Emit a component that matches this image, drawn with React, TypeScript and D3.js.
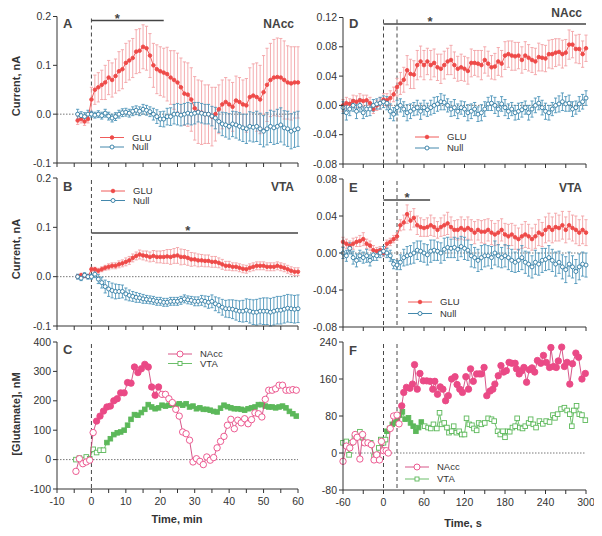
import React from 'react';
import * as d3 from 'd3';

// ---------- DATA ----------
const minT = d3.range(-4, 61); // minutes, panels A & B
const secT = d3.range(-60, 301, 5); // seconds, panels D & E

const aGlu = [-0.013, -0.01, -0.015, -0.01,
  0.03, 0.05, 0.055, 0.06, 0.065, 0.075, 0.07, 0.078, 0.088, 0.092,
  0.105, 0.11, 0.115, 0.128, 0.13, 0.138, 0.135, 0.12, 0.1, 0.092,
  0.088, 0.085, 0.082, 0.075, 0.07, 0.065, 0.055, 0.042, 0.04, 0.03,
  0.012, 0.005, 0.003, 0.0, 0.0, -0.005, 0.0, 0.01, 0.02, 0.025,
  0.02, 0.015, 0.028, 0.025, 0.02, 0.018, 0.035, 0.038, 0.035, 0.03,
  0.045, 0.06, 0.07, 0.075, 0.076, 0.075, 0.07, 0.065, 0.063, 0.065, 0.065];
const aGluErr = [0.008, 0.008, 0.008, 0.008,
  0.025, 0.03, 0.03, 0.03, 0.035, 0.035, 0.035, 0.035, 0.04, 0.04,
  0.04, 0.04, 0.04, 0.045, 0.045, 0.045, 0.045, 0.045, 0.045, 0.05,
  0.05, 0.05, 0.055, 0.055, 0.06, 0.06, 0.06, 0.065, 0.065, 0.065,
  0.065, 0.065, 0.065, 0.06, 0.06, 0.06, 0.055, 0.05, 0.05, 0.05,
  0.05, 0.05, 0.05, 0.05, 0.05, 0.055, 0.06, 0.065, 0.07, 0.07,
  0.075, 0.075, 0.075, 0.078, 0.08, 0.08, 0.08, 0.075, 0.075, 0.073, 0.073];
const aNull = [0.0, -0.003, -0.005, 0.0,
  0.0, -0.002, 0.0, -0.003, 0.002, -0.004, -0.008, -0.005, 0.0, 0.003,
  0.004, 0.002, 0.006, 0.008, 0.006, 0.01, 0.008, 0.005, 0.0, -0.005,
  -0.01, -0.01, -0.005, -0.005, 0.0, 0.0, -0.002, 0.0, 0.002, 0.0,
  0.002, 0.004, 0.002, 0.0, 0.0, -0.004, -0.008, -0.015, -0.02, -0.022,
  -0.025, -0.02, -0.022, -0.025, -0.028, -0.03, -0.025, -0.027, -0.025, -0.03,
  -0.035, -0.03, -0.025, -0.028, -0.025, -0.022, -0.028, -0.03, -0.035, -0.032, -0.03];
const aNullErr = [0.01, 0.008, 0.008, 0.008,
  0.006, 0.006, 0.007, 0.007, 0.008, 0.008, 0.008, 0.008, 0.008, 0.008,
  0.008, 0.008, 0.009, 0.009, 0.009, 0.01, 0.01, 0.01, 0.012, 0.014,
  0.015, 0.016, 0.017, 0.018, 0.02, 0.022, 0.022, 0.022, 0.022, 0.022,
  0.022, 0.02, 0.02, 0.02, 0.02, 0.02, 0.022, 0.022, 0.024, 0.025,
  0.026, 0.026, 0.027, 0.028, 0.028, 0.03, 0.03, 0.03, 0.031, 0.032,
  0.032, 0.033, 0.033, 0.034, 0.035, 0.035, 0.035, 0.036, 0.036, 0.036, 0.036];

const bGlu = [0.0, 0.003, 0.002, 0.0,
  0.015, 0.015, 0.012, 0.015, 0.018, 0.02, 0.022, 0.022, 0.025, 0.027,
  0.03, 0.033, 0.038, 0.042, 0.045, 0.043, 0.042, 0.04, 0.042, 0.04,
  0.04, 0.04, 0.041, 0.04, 0.042, 0.043, 0.04, 0.04, 0.038, 0.035,
  0.035, 0.033, 0.033, 0.032, 0.032, 0.03, 0.03, 0.028, 0.025, 0.022,
  0.022, 0.02, 0.02, 0.018, 0.016, 0.015, 0.018, 0.02, 0.022, 0.022,
  0.022, 0.02, 0.02, 0.02, 0.022, 0.02, 0.018, 0.015, 0.012, 0.01, 0.01];
const bGluErr = [0.004, 0.004, 0.004, 0.004,
  0.004, 0.004, 0.005, 0.005, 0.005, 0.006, 0.006, 0.006, 0.007, 0.007,
  0.008, 0.008, 0.008, 0.008, 0.009, 0.009, 0.01, 0.01, 0.011, 0.012,
  0.012, 0.013, 0.014, 0.015, 0.015, 0.016, 0.016, 0.015, 0.015, 0.014,
  0.013, 0.013, 0.012, 0.012, 0.012, 0.011, 0.011, 0.01, 0.01, 0.009,
  0.009, 0.008, 0.008, 0.008, 0.008, 0.008, 0.008, 0.008, 0.008, 0.008,
  0.008, 0.008, 0.008, 0.008, 0.008, 0.008, 0.008, 0.008, 0.008, 0.008, 0.008];
const bNull = [0.0, -0.003, 0.003, 0.0,
  0.0, 0.005, -0.005, -0.012, -0.02, -0.025, -0.028, -0.03, -0.03, -0.03,
  -0.035, -0.038, -0.04, -0.042, -0.043, -0.045, -0.046, -0.047, -0.048, -0.05,
  -0.05, -0.052, -0.052, -0.05, -0.05, -0.05, -0.048, -0.045, -0.047, -0.048,
  -0.05, -0.05, -0.048, -0.05, -0.052, -0.05, -0.055, -0.058, -0.062, -0.065,
  -0.065, -0.066, -0.068, -0.07, -0.07, -0.068, -0.07, -0.072, -0.072, -0.07,
  -0.07, -0.07, -0.072, -0.07, -0.068, -0.068, -0.066, -0.064, -0.065, -0.066, -0.065];
const bNullErr = [0.005, 0.005, 0.005, 0.005,
  0.005, 0.007, 0.009, 0.011, 0.013, 0.015, 0.015, 0.015, 0.014, 0.013,
  0.012, 0.011, 0.01, 0.01, 0.009, 0.009, 0.008, 0.008, 0.008, 0.008,
  0.008, 0.008, 0.008, 0.008, 0.008, 0.008, 0.008, 0.008, 0.008, 0.008,
  0.009, 0.009, 0.01, 0.011, 0.012, 0.013, 0.014, 0.015, 0.016, 0.017,
  0.018, 0.019, 0.02, 0.021, 0.022, 0.023, 0.024, 0.025, 0.026, 0.026,
  0.027, 0.027, 0.028, 0.028, 0.028, 0.028, 0.028, 0.028, 0.028, 0.028, 0.028];

const cT = d3.range(-4.5, 60, 1);
const cNAcc = [-40, 3, -14, -8, -2,
  92, 131, 148, 165, 179, 182, 200, 207, 227, 227,
  262, 260, 315, 296, 309, 324, 315, 247, 219, 247,
  222, 222, 207, 194, 171, 148, 94, 88, 66, -8,
  3, -6, -17, 9, -2, 7, 40, 62, 79, 117,
  137, 105, 134, 125, 139, 122, 136, 159, 156, 145,
  205, 236, 236, 241, 253, 253, 236, 236, 238, 236];
const cVTA = [0, 5, 0, 9, 3,
  35, 24, 32, 32, 58, 71, 85, 91, 94, 100,
  117, 137, 153, 151, 160, 171, 187, 179, 173, 176,
  185, 182, 185, 187, 185, 190, 185, 190, 179, 182,
  173, 176, 171, 171, 168, 164, 162, 175, 185, 180,
  176, 173, 173, 171, 168, 173, 176, 179, 187, 187,
  182, 179, 179, 176, 179, 182, 176, 164, 156, 148];

const dGlu = [0.0, 0.003, 0.002, 0.006, 0.005, 0.007, 0.006, 0.007, 0.003, -0.005, 0.0, 0.003,
  0.008, 0.007, 0.01, 0.015, 0.025, 0.03, 0.035, 0.048, 0.043, 0.042, 0.055, 0.06,
  0.055, 0.06, 0.055, 0.058, 0.052, 0.05, 0.055, 0.06, 0.062, 0.055, 0.05, 0.052,
  0.05, 0.047, 0.058, 0.058, 0.057, 0.055, 0.062, 0.057, 0.052, 0.053, 0.06, 0.057,
  0.068, 0.07, 0.068, 0.067, 0.068, 0.062, 0.068, 0.065, 0.062, 0.06, 0.066, 0.065,
  0.064, 0.07, 0.07, 0.072, 0.073, 0.07, 0.072, 0.083, 0.083, 0.077, 0.077, 0.07,
  0.078];
const dGluErr = [0.008, 0.008, 0.007, 0.008, 0.008, 0.009, 0.008, 0.007, 0.008, 0.006, 0.007, 0.008,
  0.008, 0.009, 0.01, 0.01, 0.012, 0.015, 0.017, 0.02, 0.02, 0.019, 0.02, 0.021,
  0.02, 0.018, 0.02, 0.019, 0.018, 0.02, 0.019, 0.018, 0.02, 0.018, 0.017, 0.018,
  0.017, 0.018, 0.019, 0.017, 0.018, 0.02, 0.018, 0.017, 0.016, 0.018, 0.019, 0.018,
  0.019, 0.018, 0.02, 0.019, 0.018, 0.018, 0.019, 0.018, 0.017, 0.018, 0.019, 0.018,
  0.018, 0.019, 0.02, 0.019, 0.018, 0.019, 0.018, 0.02, 0.018, 0.019, 0.02, 0.018,
  0.018];
const dNull = [-0.003, -0.01, -0.005, 0.0, -0.008, 0.0, -0.01, -0.005, -0.005, 0.0, 0.002, 0.003,
  0.005, 0.003, -0.008, -0.012, -0.003, 0.0, -0.005, -0.01, -0.008, -0.005, -0.003, -0.008,
  -0.003, -0.006, -0.003, 0.0, 0.002, 0.005, 0.004, 0.0, -0.005, -0.003, -0.008, -0.003,
  -0.005, -0.01, -0.008, -0.005, -0.012, -0.01, -0.005, 0.002, 0.003, 0.0, -0.005, 0.002,
  -0.003, -0.008, -0.005, -0.01, -0.008, -0.006, -0.003, -0.01, -0.005, 0.0, 0.003, -0.003,
  -0.008, -0.01, -0.005, 0.0, 0.002, 0.005, 0.002, 0.003, -0.005, -0.003, 0.002, 0.005,
  0.01];
const dNullErr = [0.008, 0.01, 0.009, 0.008, 0.01, 0.009, 0.008, 0.01, 0.009, 0.008, 0.007, 0.008,
  0.008, 0.009, 0.01, 0.009, 0.01, 0.009, 0.01, 0.011, 0.01, 0.009, 0.01, 0.011,
  0.01, 0.009, 0.01, 0.011, 0.01, 0.011, 0.01, 0.009, 0.01, 0.011, 0.01, 0.009,
  0.01, 0.011, 0.01, 0.009, 0.01, 0.011, 0.01, 0.009, 0.01, 0.011, 0.01, 0.01,
  0.011, 0.01, 0.009, 0.01, 0.011, 0.01, 0.009, 0.01, 0.011, 0.01, 0.009, 0.01,
  0.011, 0.01, 0.009, 0.01, 0.011, 0.012, 0.01, 0.011, 0.01, 0.009, 0.01, 0.01,
  0.01];

const eGlu = [0.012, 0.01, 0.008, 0.01, 0.012, 0.013, 0.015, 0.01, 0.008, 0.003, 0.002, 0.003,
  0.0, 0.01, 0.012, 0.015, 0.018, 0.03, 0.033, 0.042, 0.035, 0.038, 0.03, 0.028,
  0.027, 0.028, 0.03, 0.028, 0.025, 0.028, 0.03, 0.032, 0.028, 0.025, 0.025, 0.027,
  0.025, 0.027, 0.025, 0.022, 0.025, 0.023, 0.023, 0.025, 0.022, 0.02, 0.022, 0.025,
  0.02, 0.018, 0.02, 0.017, 0.015, 0.018, 0.02, 0.018, 0.015, 0.018, 0.022, 0.02,
  0.025, 0.028, 0.025, 0.028, 0.027, 0.03, 0.025, 0.03, 0.027, 0.025, 0.022, 0.025,
  0.022];
const eGluErr = [0.005, 0.005, 0.005, 0.006, 0.005, 0.006, 0.007, 0.005, 0.005, 0.005, 0.004, 0.004,
  0.004, 0.004, 0.004, 0.004, 0.004, 0.006, 0.008, 0.01, 0.01, 0.01, 0.01, 0.01,
  0.009, 0.01, 0.011, 0.01, 0.009, 0.01, 0.011, 0.012, 0.011, 0.01, 0.011, 0.012,
  0.011, 0.012, 0.011, 0.012, 0.011, 0.012, 0.013, 0.012, 0.013, 0.012, 0.013, 0.012,
  0.012, 0.013, 0.012, 0.013, 0.012, 0.013, 0.014, 0.013, 0.012, 0.013, 0.014, 0.013,
  0.014, 0.015, 0.014, 0.015, 0.014, 0.015, 0.014, 0.015, 0.014, 0.015, 0.014, 0.015,
  0.014];
const eNull = [0.0, -0.003, 0.005, -0.005, -0.008, -0.003, -0.005, -0.003, -0.008, -0.002, -0.003, 0.0,
  0.002, 0.0, -0.003, -0.012, -0.013, -0.01, -0.005, -0.003, -0.002, 0.0, 0.003, 0.002,
  0.0, -0.002, 0.002, 0.003, 0.002, 0.0, 0.004, 0.006, 0.005, 0.006, 0.004, 0.007,
  0.005, 0.003, -0.003, -0.005, -0.008, -0.005, -0.003, -0.003, -0.005, 0.0, -0.003, -0.005,
  -0.003, -0.005, -0.008, -0.01, -0.008, -0.005, -0.01, -0.012, -0.015, -0.01, -0.012, -0.008,
  -0.007, -0.005, -0.008, -0.012, -0.01, -0.015, -0.018, -0.012, -0.015, -0.02, -0.015, -0.012,
  -0.013];
const eNullErr = [0.006, 0.006, 0.006, 0.007, 0.007, 0.006, 0.006, 0.007, 0.006, 0.006, 0.005, 0.005,
  0.005, 0.005, 0.006, 0.005, 0.005, 0.008, 0.009, 0.01, 0.01, 0.011, 0.01, 0.011,
  0.01, 0.011, 0.012, 0.011, 0.01, 0.011, 0.012, 0.011, 0.01, 0.011, 0.012, 0.011,
  0.012, 0.011, 0.012, 0.011, 0.012, 0.013, 0.012, 0.011, 0.012, 0.013, 0.012, 0.011,
  0.012, 0.013, 0.012, 0.011, 0.012, 0.013, 0.012, 0.013, 0.012, 0.013, 0.012, 0.013,
  0.012, 0.013, 0.012, 0.013, 0.012, 0.013, 0.014, 0.013, 0.012, 0.013, 0.014, 0.013,
  0.013];

const fNAccT = [-60, -55, -50, -45, -42, -39, -35, -31, -28, -23, -18, -14, -10, -6, -3, 0,
  4, 7, 10, 15, 20, 23, 27, 30, 34, 39, 43, 46, 50, 54, 59, 64, 69, 73, 76, 80, 84, 88,
  92, 96, 101, 106, 109, 113, 117, 122, 126, 129, 133, 138, 142, 145, 149, 153, 158, 162,
  165, 170, 174, 178, 182, 186, 190, 195, 197, 201, 205, 208, 212, 216, 220, 224, 228,
  233, 237, 241, 246, 248, 252, 256, 259, 264, 268, 272, 276, 280, 285, 289, 294, 299];
const fNAccV = [-18, 15, 11, 24, 40, 34, -13, 40, 22, 22, 18, -15, -4, -15, 25, 5,
  5, 0, 53, 80, 82, 63, 102, 131, 142, 140, 149, 191, 138, 172, 156, 156, 155, 138, 155, 127, 143, 138,
  113, 124, 160, 165, 148, 138, 131, 165, 138, 182, 155, 171, 171, 171, 185, 124, 134, 138,
  149, 167, 189, 175, 178, 196, 194, 194, 182, 171, 178, 185, 153, 180, 184, 175, 200,
  194, 211, 196, 185, 228, 187, 185, 199, 229, 187, 196, 149, 193, 216, 207, 160, 172];
const fVTAT = [-60, -55, -51, -48, -43, -39, -35, -31, -28, -23, -19, -14, -10, -7, -4, 0,
  3, 5, 9, 13, 17, 20, 24, 28, 32, 37, 40, 44, 48, 52, 56, 61, 66, 70, 74, 79, 83, 86,
  90, 94, 97, 101, 104, 108, 112, 116, 120, 123, 127, 131, 134, 138, 141, 145, 150, 155,
  160, 164, 169, 173, 177, 180, 184, 187, 191, 195, 198, 202, 206, 210, 215, 218, 222,
  226, 231, 236, 241, 246, 251, 254, 258, 263, 268, 272, 276, 279, 282, 286, 290, 294, 299];
const fVTAV = [22, 25, -4, 22, 33, 40, 46, 33, 22, 22, 22, -7, -7, 11, 29, 22,
  29, 47, 53, 62, 65, 75, 82, 89, 73, 76, 65, 58, 47, 55, 67, 58, 55, 53, 62, 53, 87, 62,
  65, 55, 44, 47, 58, 44, 47, 40, 40, 75, 62, 60, 53, 49, 65, 62, 65, 75,
  73, 69, 47, 40, 47, 34, 47, 46, 55, 58, 75, 55, 53, 58, 65, 73, 62,
  55, 69, 63, 69, 67, 82, 76, 84, 95, 98, 92, 84, 58, 92, 102, 84, 82, 71];

const yTicksA = [-0.1, 0.0, 0.1, 0.2];
const yTicksC = [-100, 0, 100, 200, 300, 400];
const yTicksD = [-0.08, -0.04, 0.0, 0.04, 0.08, 0.12];
const yTicksE = [-0.08, -0.04, 0.0, 0.04, 0.08];
const yTicksF = [-80, 0, 80, 160, 240];
const xTicksMin = d3.range(-10, 61, 5);
const xLabelsMin = [-10, 0, 10, 20, 30, 40, 50, 60];
const xTicksSec = d3.range(-60, 301, 30);
const xLabelsSec = [-60, 0, 60, 120, 180, 240, 300];

// ---------- STYLE ----------
const FONT = "'Liberation Sans', Arial, Helvetica, sans-serif";
const RED = '#ee4a48';
const RED_ERR = '#f3a3a6';
const BLUE = '#2f7aa3';
const BLUE_ERR = '#4e95ba';
const PINK = '#ea4a86';
const PINK_STROKE = '#d2447c';
const GREEN = '#5cb85a';
const AXIS = '#333';

type Ser = {
  t: number[]; v: number[]; e?: number[];
  color: string; errColor?: string; shape: 'circle' | 'square'; size: number;
  filled: (t: number) => boolean; lineColor?: string;
};

type LegendItem = { label: string; s: Ser; filled: boolean };

type PanelProps = {
  px: [number, number]; py: [number, number];
  xd: [number, number]; yd: [number, number];
  xTicks: number[]; xLabels?: number[]; yTicks: number[]; yFmt: (v: number) => string;
  vlines: number[]; series: Ser[]; letter: string; region?: string; regionY?: number;
  letterY?: number;
  bar?: { to: number; y: number; starT: number };
  legend: { x: number; y: number; dy: number; items: LegendItem[] };
};

function Marker({ x, y, s, filled }: { x: number; y: number; s: Ser; filled: boolean }) {
  const fill = filled ? s.color : '#fff';
  if (s.shape === 'square') {
    return <rect x={x - s.size / 2} y={y - s.size / 2} width={s.size} height={s.size}
      fill={fill} stroke={s.color} strokeWidth={0.9} />;
  }
  return <circle cx={x} cy={y} r={s.size} fill={fill} stroke={s.color} strokeWidth={0.9} />;
}

function Panel(p: PanelProps) {
  const x = d3.scaleLinear().domain(p.xd).range(p.px);
  const y = d3.scaleLinear().domain(p.yd).range(p.py);
  const [x0, x1] = p.px;
  const yb = p.py[0];
  const yt = p.py[1];
  const line = (s: Ser) =>
    d3.line<number>().x((_, i) => x(s.t[i])).y((d) => y(d))(s.v) || '';
  const ly0 = p.letterY ?? yt + 11;
  return (
    <g>
      <line x1={x0} x2={x1} y1={y(0)} y2={y(0)} stroke="#555" strokeWidth={0.8} strokeDasharray="1.5,1.5" />
      {p.vlines.map((t) => (
        <line key={t} x1={x(t)} x2={x(t)} y1={yt + 2} y2={yb} stroke="#333" strokeWidth={0.9} strokeDasharray="4,3" />
      ))}
      {p.series.map((s, si) =>
        s.e ? (
          <g key={'e' + si} stroke={s.errColor} strokeWidth={0.9}>
            {s.v.map((v, i) => {
              const cx = x(s.t[i]);
              const lo = y(v - s.e![i]);
              const hi = y(v + s.e![i]);
              return (
                <g key={i}>
                  <line x1={cx} x2={cx} y1={lo} y2={hi} />
                  <line x1={cx - 1.6} x2={cx + 1.6} y1={hi} y2={hi} />
                  <line x1={cx - 1.6} x2={cx + 1.6} y1={lo} y2={lo} />
                </g>
              );
            })}
          </g>
        ) : null
      )}
      {p.series.map((s, si) => (
        <g key={'s' + si}>
          <path d={line(s)} fill="none" stroke={s.lineColor || s.color} strokeWidth={0.9} />
          {s.v.map((v, i) => (
            <Marker key={i} x={x(s.t[i])} y={y(v)} s={s} filled={s.filled(s.t[i])} />
          ))}
        </g>
      ))}
      <line x1={x0} x2={x0} y1={yt} y2={yb} stroke={AXIS} strokeWidth={1} />
      <line x1={x0} x2={x1} y1={yb} y2={yb} stroke={AXIS} strokeWidth={1} />
      {p.yTicks.map((t) => (
        <g key={'yt' + t}>
          <line x1={x0 - 4} x2={x0} y1={y(t)} y2={y(t)} stroke={AXIS} />
          <text x={x0 - 6} y={y(t)} dy="0.35em" textAnchor="end" fontSize={10.5} fill="#333">{p.yFmt(t)}</text>
        </g>
      ))}
      {p.xTicks.map((t) => (
        <line key={'xt' + t} x1={x(t)} x2={x(t)} y1={yb} y2={yb + 4} stroke={AXIS} />
      ))}
      {p.xLabels && p.xLabels.map((t) => (
        <text key={'xl' + t} x={x(t)} y={yb + 16} textAnchor="middle" fontSize={10.5} fill="#333">{t}</text>
      ))}
      <text x={x0 + 6} y={ly0} fontSize={13} fontWeight="bold" fill="#444">{p.letter}</text>
      {p.region && (
        <text x={x1 - 4} y={p.regionY ?? ly0} textAnchor="end" fontSize={12} fontWeight="bold" fill="#444">{p.region}</text>
      )}
      {p.bar && (
        <g>
          <line x1={x(0)} x2={x(p.bar.to)} y1={p.bar.y} y2={p.bar.y} stroke="#444" strokeWidth={1.6} />
          <text x={x(p.bar.starT)} y={p.bar.y + 2} textAnchor="middle" fontSize={13} fontWeight="bold" fill="#444">*</text>
        </g>
      )}
      {p.legend.items.map((it, i) => {
        const ly = p.legend.y + i * p.legend.dy;
        const lx = p.legend.x;
        return (
          <g key={'lg' + i}>
            <line x1={lx} x2={lx + 24} y1={ly} y2={ly} stroke={it.s.lineColor || it.s.color} strokeWidth={0.9} />
            <Marker x={lx + 12} y={ly} s={it.s} filled={it.filled} />
            <text x={lx + 32} y={ly} dy="0.35em" fontSize={9.5} fill="#333">{it.label}</text>
          </g>
        );
      })}
    </g>
  );
}

export default function App() {
  const glu = (t: number[], v: number[], e: number[]): Ser => ({
    t, v, e, color: RED, errColor: RED_ERR, shape: 'circle', size: 1.8, filled: () => true,
  });
  const nul = (t: number[], v: number[], e: number[]): Ser => ({
    t, v, e, color: BLUE, errColor: BLUE_ERR, shape: 'circle', size: 2.0, filled: () => false,
  });
  const fmt1 = d3.format('.1f');
  const fmt2 = d3.format('.2f');
  const fmtA = (v: number) => (v < 0 ? '-' + fmt1(-v) : fmt1(Math.abs(v)));
  const fmtD = (v: number) => (v < 0 ? '-' + fmt2(-v) : fmt2(Math.abs(v)));
  const fmtI = (v: number) => String(v);

  const leftX: [number, number] = [57, 298];
  const rightX: [number, number] = [343, 586];

  const sAglu = glu(minT, aGlu, aGluErr), sAnull = nul(minT, aNull, aNullErr);
  const sBglu = glu(minT, bGlu, bGluErr), sBnull = nul(minT, bNull, bNullErr);
  const sDglu = glu(secT, dGlu, dGluErr), sDnull = nul(secT, dNull, dNullErr);
  const sEglu = glu(secT, eGlu, eGluErr), sEnull = nul(secT, eNull, eNullErr);
  const sCn: Ser = { t: cT, v: cNAcc, color: PINK, lineColor: PINK_STROKE, shape: 'circle', size: 3.2, filled: (t) => t > 1 && t < 20 };
  const sCv: Ser = { t: cT, v: cVTA, color: GREEN, shape: 'square', size: 4.6, filled: (t) => t > 4 };
  const sFn: Ser = { t: fNAccT, v: fNAccV, color: PINK, lineColor: PINK_STROKE, shape: 'circle', size: 3.2, filled: (t) => t > 25 };
  const sFv: Ser = { t: fVTAT, v: fVTAV, color: GREEN, shape: 'square', size: 4.6, filled: (t) => t > 4 && t < 58 };

  const lg = (a: Ser, b: Ser): LegendItem[] => [
    { label: 'GLU', s: a, filled: true },
    { label: 'Null', s: b, filled: false },
  ];
  const lgC = (n: Ser, v: Ser): LegendItem[] => [
    { label: 'NAcc', s: { ...n, size: 3 }, filled: false },
    { label: 'VTA', s: { ...v, size: 4 }, filled: false },
  ];

  return (
    <svg width={602} height={536} style={{ display: 'block', margin: '-8px' }} fontFamily={FONT}>
      <rect width={602} height={536} fill="#fff" />
      <Panel px={leftX} py={[163, 16.5]} xd={[-10, 60]} yd={[-0.1, 0.2]} xTicks={xTicksMin} yTicks={yTicksA} yFmt={fmtA}
        vlines={[0]} series={[sAglu, sAnull]} letter="A" region="NAcc" letterY={28} bar={{ to: 21, y: 20.5, starT: 7.5 }}
        legend={{ x: 100, y: 137.5, dy: 9.5, items: lg(sAglu, sAnull) }} />
      <Panel px={leftX} py={[326, 178]} xd={[-10, 60]} yd={[-0.1, 0.2]} xTicks={xTicksMin} yTicks={yTicksA} yFmt={fmtA}
        vlines={[0]} series={[sBglu, sBnull]} letter="B" region="VTA" letterY={191} bar={{ to: 60, y: 233, starT: 28 }}
        legend={{ x: 101, y: 191, dy: 9.5, items: lg(sBglu, sBnull) }} />
      <Panel px={leftX} py={[489, 342]} xd={[-10, 60]} yd={[-100, 400]} xTicks={xTicksMin} xLabels={xLabelsMin} yTicks={yTicksC} yFmt={fmtI}
        vlines={[0]} series={[sCv, sCn]} letter="C" letterY={354}
        legend={{ x: 168, y: 354, dy: 9.5, items: lgC(sCn, sCv) }} />
      <Panel px={rightX} py={[164, 17.5]} xd={[-60, 300]} yd={[-0.08, 0.12]} xTicks={xTicksSec} yTicks={yTicksD} yFmt={fmtD}
        vlines={[0, 20]} series={[sDglu, sDnull]} letter="D" region="NAcc" letterY={28} regionY={17} bar={{ to: 300, y: 24, starT: 69 }}
        legend={{ x: 415, y: 137, dy: 11, items: lg(sDglu, sDnull) }} />
      <Panel px={rightX} py={[327, 179]} xd={[-60, 300]} yd={[-0.08, 0.08]} xTicks={xTicksSec} yTicks={yTicksE} yFmt={fmtD}
        vlines={[0, 20]} series={[sEglu, sEnull]} letter="E" region="VTA" letterY={192} bar={{ to: 69, y: 200, starT: 35 }}
        legend={{ x: 408, y: 302, dy: 11.5, items: lg(sEglu, sEnull) }} />
      <Panel px={rightX} py={[490, 342]} xd={[-60, 300]} yd={[-80, 240]} xTicks={xTicksSec} xLabels={xLabelsSec} yTicks={yTicksF} yFmt={fmtI}
        vlines={[0, 20]} series={[sFv, sFn]} letter="F" letterY={355}
        legend={{ x: 405, y: 467, dy: 12, items: lgC(sFn, sFv) }} />
      <text transform="translate(20,86) rotate(-90)" textAnchor="middle" fontSize={11} fontWeight="bold" fill="#333">Current,  nA</text>
      <text transform="translate(20,249) rotate(-90)" textAnchor="middle" fontSize={11} fontWeight="bold" fill="#333">Current,  nA</text>
      <text transform="translate(20,414) rotate(-90)" textAnchor="middle" fontSize={11} fontWeight="bold" fill="#333">[Glutamate],  nM</text>
      <text x={177} y={523} textAnchor="middle" fontSize={11} fontWeight="bold" fill="#333">Time,  min</text>
      <text x={463} y={527} textAnchor="middle" fontSize={11} fontWeight="bold" fill="#333">Time,  s</text>
    </svg>
  );
}
